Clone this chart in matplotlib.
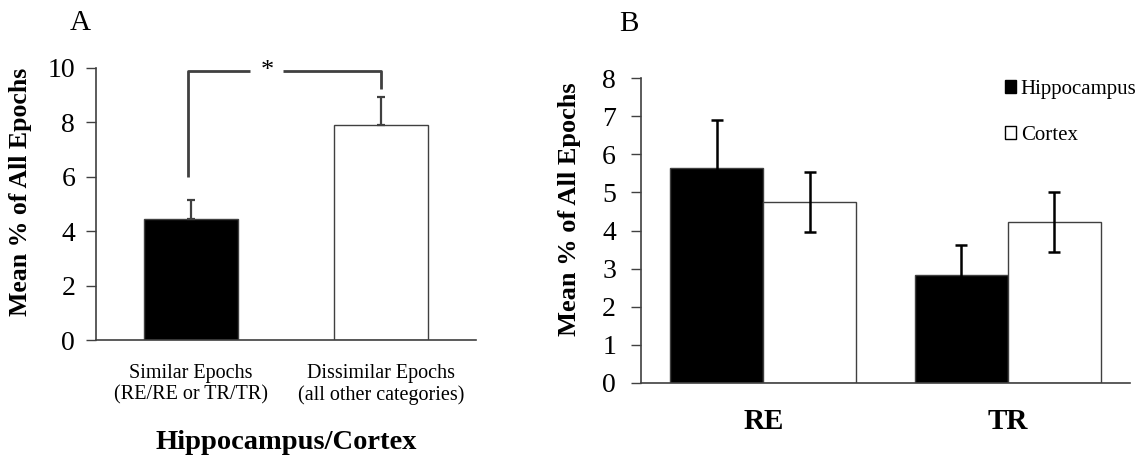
import matplotlib
matplotlib.use("Agg")
import matplotlib.pyplot as plt
from matplotlib.patches import Patch

plt.rcParams['font.family'] = ['Liberation Serif', 'DejaVu Serif']

# Panel A data
a_categories = ["Similar Epochs\n(RE/RE or TR/TR)", "Dissimilar Epochs\n(all other categories)"]
a_values = [4.43, 7.90]
a_err_up = [0.70, 1.02]
a_colors = ["black", "white"]

# Panel B data
b_groups = ["RE", "TR"]
b_series = ["Hippocampus", "Cortex"]
b_hippo = [5.65, 2.83]
b_hippo_err = [1.25, 0.80]
b_cortex = [4.75, 4.22]
b_cortex_err = [0.80, 0.79]

edge = "#404040"

fig = plt.figure(figsize=(11.46, 4.55), dpi=100)

# ---------- Panel A ----------
axA = fig.add_axes([96/1146, 1-340/455, 380/1146, (340-67.7)/455])
xa = [0, 1]
axA.bar(xa, a_values, width=0.495, color=a_colors, edgecolor=edge, linewidth=1.0, zorder=2)
axA.errorbar(xa, a_values, yerr=[[0, 0], a_err_up], fmt='none', ecolor=edge,
             elinewidth=1.6, capsize=3, capthick=1.6, zorder=3)
axA.set_xlim(-0.5, 1.5)
axA.set_ylim(0, 10)
axA.set_yticks([0, 2, 4, 6, 8, 10])
axA.set_xticks(xa)
axA.set_xticklabels(a_categories, fontsize=14.5, linespacing=1.2)
axA.tick_params(axis='x', length=0, pad=17)
axA.tick_params(axis='y', direction='out', length=7, width=1, color=edge, labelsize=20, pad=8)
for s in ['top', 'right']:
    axA.spines[s].set_visible(False)
for s in ['left', 'bottom']:
    axA.spines[s].set_color(edge)
    axA.spines[s].set_linewidth(1.2)
axA.set_ylabel("Mean % of All Epochs", fontsize=18.5, fontweight='bold')
axA.yaxis.set_label_coords(-0.168, 0.543)
axA.set_xlabel("Hippocampus/Cortex", fontsize=20.5, fontweight='bold')
axA.xaxis.set_label_coords(0.5, -0.33)

# significance bracket
by = 9.88
axA.plot([-0.015, -0.015, 0.31], [6.0, by, by], color=edge, lw=2.0, clip_on=False, solid_capstyle='butt')
axA.plot([0.485, 1.0, 1.0], [by, by, 9.2], color=edge, lw=2.0, clip_on=False, solid_capstyle='butt')
axA.text(0.4, by, "*", ha='center', va='center', fontsize=19)

fig.text(80/1146, 1-23/455, "A", fontsize=21, ha='center', va='center')

# ---------- Panel B ----------
axB = fig.add_axes([641/1146, 1-382.7/455, 489/1146, (382.7-78.3)/455])
xb = [0, 1]
w = 0.38
xh = [x - w/2 for x in xb]
xc = [x + w/2 for x in xb]
axB.bar(xh, b_hippo, width=w, color='black', edgecolor=edge, linewidth=1.0, label=b_series[0], zorder=2)
axB.bar(xc, b_cortex, width=w, color='white', edgecolor=edge, linewidth=1.0, label=b_series[1], zorder=2)
axB.errorbar(xh, b_hippo, yerr=b_hippo_err, fmt='none', ecolor='black', elinewidth=1.8,
             capsize=4.5, capthick=1.8, zorder=3)
axB.errorbar(xc, b_cortex, yerr=b_cortex_err, fmt='none', ecolor='black', elinewidth=1.8,
             capsize=4.5, capthick=1.8, zorder=3)
axB.set_xlim(-0.5, 1.5)
axB.set_ylim(0, 8)
axB.set_yticks(range(0, 9))
axB.set_xticks(xb)
axB.set_xticklabels(b_groups, fontsize=21, fontweight='bold')
axB.tick_params(axis='x', length=0, pad=18)
axB.tick_params(axis='y', direction='out', length=7, width=1, color=edge, labelsize=20, pad=11)
for s in ['top', 'right']:
    axB.spines[s].set_visible(False)
for s in ['left', 'bottom']:
    axB.spines[s].set_color(edge)
    axB.spines[s].set_linewidth(1.2)
axB.set_ylabel("Mean % of All Epochs", fontsize=19, fontweight='bold')
axB.yaxis.set_label_coords(-0.122, 0.571)

handles = [Patch(facecolor='black', edgecolor='black'), Patch(facecolor='white', edgecolor='black')]
fig.legend(handles, b_series, loc='upper left', bbox_to_anchor=(1005/1146, 1-80/455),
           frameon=False, fontsize=15, handlelength=0.55, handleheight=0.55,
           handletextpad=0.2, labelspacing=1.3, borderaxespad=0, borderpad=0)

fig.text(629/1146, 1-24/455, "B", fontsize=21, ha='center', va='center')

fig.savefig("out.png", dpi=100)
